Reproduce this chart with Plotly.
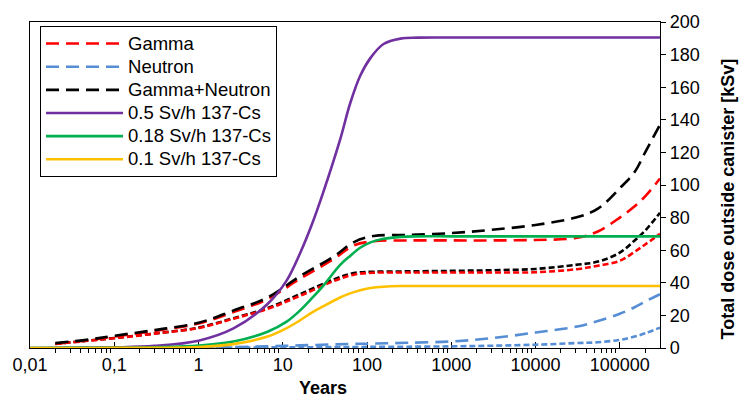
import plotly.graph_objects as go

# ---- data ----
cs_years = [0.01, 0.03, 0.1, 0.3, 1, 2.6, 6.6, 11, 16, 22.6, 30, 48, 63, 83, 110, 157,
            250, 400, 1000, 10000, 100000, 300000]
cs_05 = [0, 0.1, 0.4, 1.3, 4.5, 12, 27, 41, 58, 77, 95, 128, 150, 167, 178, 186.5,
         189.8, 190.4, 190.5, 190.5, 190.5, 190.5]
cs_018 = [0, 0.05, 0.15, 0.5, 1.5, 4, 10, 16, 23, 31, 38, 51, 56.5, 61.5, 64.8, 67,
          68.2, 68.5, 68.5, 68.5, 68.5, 68.5]
cs_01 = [0, 0.02, 0.05, 0.15, 0.6, 2.4, 7, 12, 17, 22, 25.5, 31, 33.5, 35.5, 36.8, 37.6,
         38, 38, 38, 38, 38, 38]

dose_years = [0.02, 0.05, 0.1, 0.3, 1, 2.6, 6.6, 16, 40, 70, 120, 300, 1000, 3000,
              10000, 30000, 55000, 100000, 150000, 200000, 300000]
gamma_long = [2.5, 4.8, 7, 10.5, 15, 22, 30, 42.5, 54.5, 63, 65.5, 66, 66, 66, 66.3,
              67.5, 71.5, 80, 87, 93, 104]
neutron_long = [0, 0.05, 0.1, 0.2, 0.3, 0.6, 1, 1.6, 2.2, 2.5, 2.7, 3.2, 4, 6, 9.5,
                13, 16.5, 21, 25, 28.5, 33]
total_long = [3, 5.2, 7.5, 11, 15.5, 23, 31, 44, 56, 65, 68.7, 69.3, 70.5, 72.5, 75.5,
              80, 85.5, 98, 108, 120, 137]
gamma_short = [2.5, 4.5, 6, 8.8, 12.3, 18, 24, 32, 41, 45, 46.2, 46.3, 46.3, 46.3, 46.5,
               48.3, 50.5, 53.5, 59, 63.5, 70]
neutron_short = [0, 0.02, 0.04, 0.08, 0.15, 0.25, 0.35, 0.45, 0.55, 0.6, 0.7, 0.8, 1,
                 1.4, 2, 3, 3.5, 5, 7, 9, 12.5]
total_short = [2.6, 4.6, 6.1, 8.9, 12.5, 18.3, 24.5, 33, 42, 46, 46.8, 47, 47.3, 47.7,
               48.5, 51, 53, 58.5, 66, 72, 83]

x_tickvals = [0.01, 0.1, 1, 10, 100, 1000, 10000, 100000]
x_ticktext = ["0,01", "0,1", "1", "10", "100", "1000", "10000", "100000"]

RED = "#FF0000"
BLUE = "#558ED5"
BLACK = "#000000"
PURPLE = "#7030A0"
GREEN = "#00B050"
YELLOW = "#FFC000"
LONG = "13px,7px"
SHORT = "6px,3px"
FONT = "Arial, Liberation Sans, sans-serif"

fig = go.Figure()

def add(x, y, name, color, dash, show):
    fig.add_trace(go.Scatter(
        x=x, y=y, name='<span style="font-size:18.5px">' + name + "</span>",
        mode="lines", showlegend=show,
        line=dict(color=color, width=2.6, dash=dash, shape="spline", smoothing=1.0),
        hoverinfo="skip"))

add(dose_years, neutron_short, "Neutron (short)", BLUE, SHORT, False)
add(dose_years, total_short, "Gamma+Neutron (short)", BLACK, SHORT, False)
add(dose_years, gamma_short, "Gamma (short)", RED, SHORT, False)
add(dose_years, gamma_long, "Gamma", RED, LONG, True)
add(dose_years, neutron_long, "Neutron", BLUE, LONG, True)
add(dose_years, total_long, "Gamma+Neutron", BLACK, LONG, True)
add(cs_years, cs_05, "0.5 Sv/h 137-Cs", PURPLE, "solid", True)
add(cs_years, cs_018, "0.18 Sv/h 137-Cs", GREEN, "solid", True)
add(cs_years, cs_01, "0.1 Sv/h 137-Cs", YELLOW, "solid", True)

minor_vals = [m * 10 ** e for e in range(-2, 6) for m in range(2, 10)]

fig.update_layout(
    width=739, height=399,
    margin=dict(l=30, r=79, t=19, b=51),
    paper_bgcolor="white", plot_bgcolor="white",
    font=dict(family=FONT, size=18, color="black"),
    legend=dict(x=0.0159, y=0.9878, xanchor="left", yanchor="top",
                bordercolor="black", borderwidth=1, bgcolor="white",
                font=dict(size=15.5), traceorder="normal", tracegroupgap=0,
                itemwidth=77),
    xaxis=dict(type="log", range=[-2, 5.4771],
               tickmode="array", tickvals=x_tickvals, ticktext=x_ticktext,
               ticks="inside", ticklen=6, tickcolor="black", tickwidth=1,
               minor=dict(tickmode="array", tickvals=minor_vals, ticks="outside",
                          ticklen=4, tickcolor="black", tickwidth=1),
               showline=True, linecolor="black", linewidth=1.3, mirror=True,
               showgrid=False, zeroline=False, layer="below traces",
               tickfont=dict(size=18)),
    yaxis=dict(side="right", range=[0, 200], dtick=20,
               ticks="outside", ticklen=5, tickcolor="black",
               showline=True, linecolor="black", linewidth=1.3, mirror=True,
               showgrid=False, zeroline=False, layer="below traces",
               tickfont=dict(size=18)),
    annotations=[
        dict(text="<b>Years</b>", xref="paper", yref="paper",
             x=0.465, y=-0.1216, xanchor="center", yanchor="middle",
             showarrow=False, font=dict(size=18)),
        dict(text="<b>Total dose outside canister [kSv]</b>", xref="paper", yref="paper",
             x=1.108, y=0.456, xanchor="center", yanchor="middle", textangle=-90,
             showarrow=False, font=dict(size=18)),
    ],
)

fig.write_html("out.html")
